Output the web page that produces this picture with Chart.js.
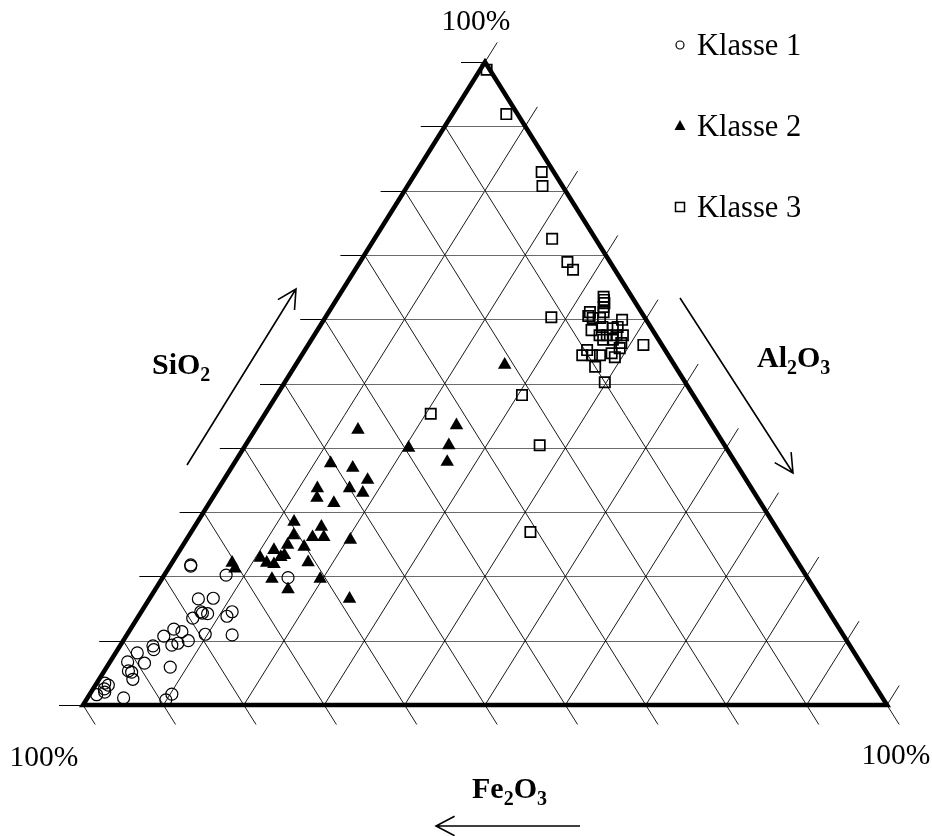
<!DOCTYPE html>
<html>
<head>
<meta charset="utf-8">
<script src="https://cdn.jsdelivr.net/npm/chart.js@4.4.1/dist/chart.umd.min.js"></script>
<style>
  body { margin: 0; background: #fff; }
  canvas { display: block; }
</style>
</head>
<body>
<canvas id="ternary" width="932" height="836"></canvas>
<script>
// Ternary diagram SiO2 / Al2O3 / Fe2O3 (Fe2O3 = 100 - SiO2 - Al2O3)
const klasse1SiO2 = [21.8, 21.6, 20.2, 19.8, 16.5, 16.6, 14.5, 14.3, 14.2, 13.5, 14.5, 13.8, 11.8, 11.4, 10.7, 10.0, 9.6, 9.3, 11.0, 10.9, 9.2, 8.6, 8.1, 6.5, 6.7, 5.3, 5.1, 4.0, 5.9, 3.4, 3.1, 2.5, 1.6, 2.0, 1.1, 1.7, 0.8];
const klasse1Al2O3 = [2.5, 2.6, 7.7, 15.6, 6.1, 7.9, 7.4, 7.7, 8.4, 6.9, 11.3, 11.0, 5.4, 6.6, 4.7, 8.1, 7.0, 6.4, 9.7, 13.1, 4.1, 4.5, 2.7, 4.4, 2.2, 3.0, 3.5, 4.2, 7.9, 1.0, 1.6, 1.4, 0.9, 1.7, 4.5, 10.2, 9.9];

const klasse2SiO2 = [42.8, 37.6, 36.9, 35.0, 33.7, 33.0, 33.7, 32.2, 31.4, 28.5, 27.7, 26.4, 26.1, 26.1, 25.7, 24.6, 24.9, 23.3, 24.1, 23.0, 22.9, 22.1, 21.9, 22.2, 22.1, 21.2, 19.6, 18.0, 19.6, 16.5, 40.0, 43.5, 40.4, 37.8, 52.9];
const klasse2Al2O3 = [12.8, 12.0, 15.1, 17.9, 16.3, 18.3, 12.3, 13.0, 15.5, 12.0, 15.8, 13.0, 15.5, 16.9, 20.4, 15.2, 13.0, 13.4, 11.7, 13.1, 10.6, 11.8, 12.8, 16.9, 7.5, 8.3, 13.7, 16.5, 19.7, 24.9, 20.5, 24.7, 25.3, 26.4, 26.0];

const klasse3SiO2 = [98.8, 91.9, 82.9, 80.7, 72.5, 68.9, 67.7, 60.3, 45.3, 48.2, 40.4, 26.9, 56.0, 63.5, 63.0, 62.5, 61.9, 61.1, 61.1, 60.5, 60.2, 60.2, 59.9, 58.3, 58.8, 58.6, 58.8, 57.5, 57.5, 57.5, 57.5, 56.8, 56.8, 56.3, 55.2, 54.4, 54.4, 54.4, 54.7, 54.1, 55.5, 52.6, 50.2];
const klasse3Al2O3 = [0.8, 6.7, 15.6, 16.8, 22.1, 25.8, 27.1, 28.1, 20.6, 30.5, 36.6, 42.2, 41.7, 33.0, 33.3, 33.6, 33.8, 34.2, 32.5, 32.6, 33.3, 34.2, 37.1, 34.1, 35.2, 36.6, 37.1, 35.5, 36.4, 37.6, 38.4, 36.3, 37.5, 38.8, 35.1, 34.9, 36.1, 37.1, 38.4, 39.1, 39.0, 37.4, 39.8];

const classNames = ['Klasse 1', 'Klasse 2', 'Klasse 3'];
const gridSteps = [0, 10, 20, 30, 40, 50, 60, 70, 80, 90, 100];
const cornerLabel = '100%';

const SERIF = '"Liberation Serif", "Times New Roman", serif';

// ternary -> cartesian (x along the base, y = height)
function toXY(si, al) {
  return si.map((s, i) => ({ x: al[i] + s / 2, y: s }));
}

function drawChem(ctx, parts, x, baseline) {
  parts.forEach(([txt, sub]) => {
    ctx.font = sub ? 'bold 20px ' + SERIF : 'bold 30px ' + SERIF;
    ctx.fillText(txt, x, sub ? baseline + 7 : baseline);
    x += ctx.measureText(txt).width;
  });
}

function arrow(ctx, x1, y1, x2, y2) {
  const ang = Math.atan2(y2 - y1, x2 - x1);
  const hl = 21, ha = Math.PI / 6.5;
  ctx.beginPath();
  ctx.moveTo(x1, y1);
  ctx.lineTo(x2, y2);
  ctx.moveTo(x2 - hl * Math.cos(ang - ha), y2 - hl * Math.sin(ang - ha));
  ctx.lineTo(x2, y2);
  ctx.lineTo(x2 - hl * Math.cos(ang + ha), y2 - hl * Math.sin(ang + ha));
  ctx.stroke();
}

const ternaryFrame = {
  id: 'ternaryFrame',
  beforeDraw(chart) {
    const ctx = chart.ctx;
    ctx.save();
    ctx.fillStyle = '#fff';
    ctx.fillRect(0, 0, chart.width, chart.height);
    ctx.restore();
  },
  beforeDatasetsDraw(chart) {
    const ctx = chart.ctx;
    const xs = chart.scales.x, ys = chart.scales.y;
    const P = (si, al) => [xs.getPixelForValue(al + si / 2), ys.getPixelForValue(si)];
    const norm = (a, b) => {
      const dx = b[0] - a[0], dy = b[1] - a[1], l = Math.hypot(dx, dy);
      return [dx / l, dy / l];
    };
    const upRight = norm(P(0, 0), P(100, 0));
    const downRight = norm(P(100, 0), P(0, 100));
    const tick = 23;

    ctx.save();
    gridSteps.forEach(v => {
      const inner = v > 0 && v < 100;
      // constant SiO2 (horizontal)
      const a = P(v, 0), b = P(v, 100 - v);
      const yy = Math.round(a[1]) + 0.5;
      ctx.lineWidth = 1;
      if (inner) {
        ctx.strokeStyle = '#6a6a6a';
        ctx.beginPath(); ctx.moveTo(a[0], yy); ctx.lineTo(b[0], yy); ctx.stroke();
      }
      ctx.strokeStyle = '#000';
      ctx.beginPath(); ctx.moveTo(a[0] - 24, yy); ctx.lineTo(a[0], yy); ctx.stroke();

      // constant Al2O3 (parallel to left edge), tick beyond right edge
      const c = P(0, v), d = P(100 - v, v);
      ctx.lineWidth = 0.9;
      ctx.beginPath();
      if (inner) ctx.moveTo(c[0], c[1]); else ctx.moveTo(d[0], d[1]);
      ctx.lineTo(d[0], d[1]);
      ctx.lineTo(d[0] + upRight[0] * tick, d[1] + upRight[1] * tick);
      ctx.stroke();

      // constant Fe2O3 (parallel to right edge), tick below base
      const e = P(v, 0), f = P(0, v);
      ctx.beginPath();
      if (inner) ctx.moveTo(e[0], e[1]); else ctx.moveTo(f[0], f[1]);
      ctx.lineTo(f[0], f[1]);
      ctx.lineTo(f[0] + downRight[0] * tick, f[1] + downRight[1] * tick);
      ctx.stroke();
    });

    // thick triangle border
    const bl = P(0, 0), br = P(0, 100), top = P(100, 0);
    ctx.lineWidth = 4.5;
    ctx.lineJoin = 'miter';
    ctx.strokeStyle = '#000';
    ctx.beginPath();
    ctx.moveTo(bl[0], bl[1]); ctx.lineTo(br[0], br[1]); ctx.lineTo(top[0], top[1]);
    ctx.closePath();
    ctx.stroke();
    ctx.restore();
  },
  afterDraw(chart) {
    const ctx = chart.ctx;
    ctx.save();
    ctx.fillStyle = '#000';
    ctx.strokeStyle = '#000';
    ctx.textBaseline = 'alphabetic';

    // corner labels
    ctx.font = '29.5px ' + SERIF;
    ctx.textAlign = 'center';
    ctx.fillText(cornerLabel, 476, 30);
    ctx.fillText(cornerLabel, 44, 766);
    ctx.fillText(cornerLabel, 896, 764);

    // component labels
    ctx.textAlign = 'left';
    drawChem(ctx, [['SiO', false], ['2', true]], 152, 374);
    drawChem(ctx, [['Al', false], ['2', true], ['O', false], ['3', true]], 757, 367);
    drawChem(ctx, [['Fe', false], ['2', true], ['O', false], ['3', true]], 472, 798);

    // direction arrows
    ctx.lineWidth = 1.6;
    ctx.lineCap = 'butt';
    arrow(ctx, 187, 465, 296, 289);
    arrow(ctx, 680, 298, 793, 473);
    arrow(ctx, 580, 826, 436, 826);

    // legend
    const legendY = [45, 126, 207];
    chart.data.datasets.forEach((ds, i) => {
      const cx = 680, cy = legendY[i];
      ctx.lineWidth = 1.2;
      ctx.beginPath();
      if (i === 0) {
        ctx.arc(cx, cy, 4, 0, Math.PI * 2);
        ctx.stroke();
      } else if (i === 1) {
        ctx.moveTo(cx, cy - 6); ctx.lineTo(cx + 5.5, cy + 4); ctx.lineTo(cx - 5.5, cy + 4);
        ctx.closePath(); ctx.fill();
      } else {
        ctx.lineWidth = 1.5;
        ctx.rect(cx - 4.5, cy - 4.5, 9, 9);
        ctx.stroke();
      }
      ctx.font = '30.5px ' + SERIF;
      ctx.fillText(ds.label, 697, legendY[i] + 10);
    });
    ctx.restore();
  }
};

new Chart(document.getElementById('ternary'), {
  type: 'scatter',
  data: {
    datasets: [
      {
        label: classNames[0],
        data: toXY(klasse1SiO2, klasse1Al2O3),
        pointStyle: 'circle',
        pointRadius: 6,
        backgroundColor: 'rgba(0,0,0,0)',
        borderColor: '#000',
        borderWidth: 1.2,
        clip: false
      },
      {
        label: classNames[1],
        data: toXY(klasse2SiO2, klasse2Al2O3),
        pointStyle: 'triangle',
        pointRadius: 7.8,
        backgroundColor: '#000',
        borderColor: '#000',
        borderWidth: 0,
        clip: false
      },
      {
        label: classNames[2],
        data: toXY(klasse3SiO2, klasse3Al2O3),
        pointStyle: 'rect',
        pointRadius: 7.3,
        backgroundColor: 'rgba(0,0,0,0)',
        borderColor: '#000',
        borderWidth: 1.7,
        clip: false
      }
    ]
  },
  options: {
    responsive: false,
    animation: false,
    events: [],
    layout: { padding: { left: 83, right: 45, top: 62, bottom: 131 } },
    scales: {
      x: { type: 'linear', min: 0, max: 100, display: false },
      y: { type: 'linear', min: 0, max: 100, display: false }
    },
    plugins: {
      legend: { display: false },
      tooltip: { enabled: false }
    }
  },
  plugins: [ternaryFrame]
});
</script>
</body>
</html>
